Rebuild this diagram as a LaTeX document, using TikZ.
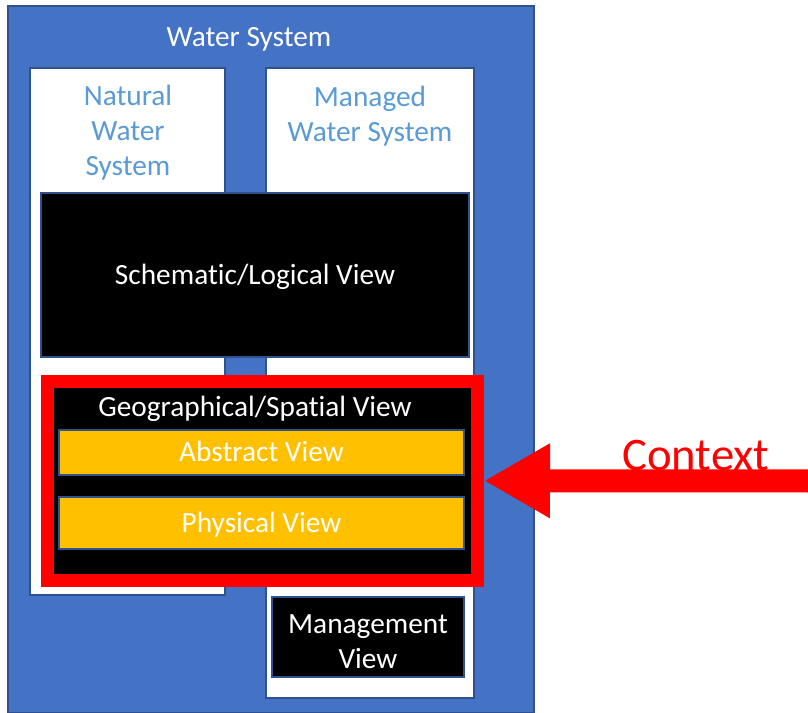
\documentclass[tikz,border=0pt]{standalone}
\usepackage{fontspec}
\setmainfont{Carlito}[Ligatures=NoCommon]
\usetikzlibrary{arrows.meta}

\definecolor{wsblue}{HTML}{4472C4}
\definecolor{wsedge}{HTML}{2F528F}
\definecolor{wslight}{HTML}{5B9BD5}
\definecolor{wsyellow}{HTML}{FFC000}

\tikzset{
  boxbase/.style={rectangle, inner sep=0pt, draw=wsedge, line width=1.1pt},
  sysbox/.style={boxbase, fill=white},
  viewbox/.style={boxbase, fill=black, text=white},
  subview/.style={boxbase, fill=wsyellow, text=white},
  lbl/.style={inner sep=0pt, align=center, font=\fontsize{22}{26.3}\selectfont},
  oneline/.style={text height=14.2pt, text depth=0pt}
}

\begin{document}
\begin{tikzpicture}[x=0.75pt,y=-0.75pt]

  % Fix the page size
  \useasboundingbox (0,0) rectangle (808,713);

  % Draw the outer water system
  \node[boxbase, fill=wsblue, minimum width=526*0.75pt, minimum height=707*0.75pt] (water) at (271,359.5) {};
  \node[lbl, oneline, text=white] (watertitle) at (249,37) {Water System};

  % Draw the two sub systems
  \node[sysbox, minimum width=195*0.75pt, minimum height=527*0.75pt] (natural) at (127.5,331.5) {};
  \node[sysbox, minimum width=208*0.75pt, minimum height=630*0.75pt] (managed) at (370,383) {};
  \node[lbl, text=wslight] (naturaltitle) at (128,133) {Natural\\Water\\System};
  \node[lbl, text=wslight] (managedtitle) at (370,116) {Managed\\Water System};

  % Draw the views
  \node[viewbox, lbl, oneline, minimum width=428*0.75pt, minimum height=164*0.75pt] (schematic) at (255,275) {Schematic/Logical View};
  \node[rectangle, fill=black, draw=red, line width=9.75pt, minimum width=430*0.75pt, minimum height=198.5*0.75pt] (geo) at (262.5,480.75) {};
  \node[lbl, oneline, text=white] (geotitle) at (255,407) {Geographical/Spatial View};
  \node[subview, lbl, oneline, minimum width=405*0.75pt, minimum height=45*0.75pt] (abstract) at (261.5,452.5) {Abstract View};
  \node[subview, lbl, oneline, minimum width=405*0.75pt, minimum height=52*0.75pt] (physical) at (261.5,523) {Physical View};
  \node[viewbox, minimum width=192*0.75pt, minimum height=80*0.75pt] (management) at (368,637) {};
  \node[lbl, text=white] (managementtitle) at (368,642) {Management\\View};

  % Draw the context arrow
  \coordinate (ctxtail) at (808,481);
  \draw[-{Triangle[length=49.5pt,width=52.5pt]}, red, line width=17.25pt] (ctxtail) -- (geo.east);
  \node[lbl, text=red, font=\fontsize{35}{40}\selectfont, text height=22.5pt, text depth=0pt] (context) at (696,455) {Context};

\end{tikzpicture}
\end{document}
